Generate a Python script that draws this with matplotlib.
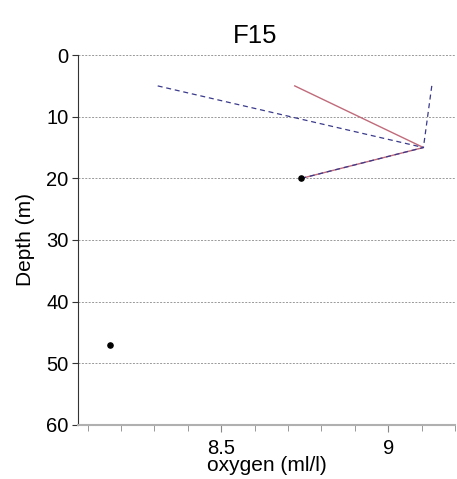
import numpy as np
import matplotlib.pyplot as plt
from matplotlib.ticker import MultipleLocator

plt.rcParams['font.family'] = ['Liberation Sans', 'DejaVu Sans']

# Data
red_oxygen = [8.72, 9.105, 8.74]
red_depth = [5, 15, 20]
blue_oxygen = [8.31, 9.105, 8.74]
blue_depth = [5, 15, 20]
blue2_oxygen = [9.13, 9.105]
blue2_depth = [5, 15]
dot_oxygen = [8.74, 8.168]
dot_depth = [20, 47]
yticks = [0, 10, 20, 30, 40, 50, 60]

fig = plt.figure(figsize=(4.57, 4.79), dpi=100)
ax = fig.add_axes([0.171, 0.113, 0.825, 0.772])

ax.plot(red_oxygen, red_depth, color='#c06a7a', lw=1.0)
ax.plot(blue_oxygen, blue_depth, color='#3a3a8c', lw=0.9, ls=(0, (4, 3)))
ax.plot(blue2_oxygen, blue2_depth, color='#3a3a8c', lw=0.9, ls=(0, (4, 3)))
ax.scatter(dot_oxygen, dot_depth, color='black', s=14, zorder=5)

ax.set_xlim(8.072, 9.2)
ax.set_ylim(60, 0)
ax.set_yticks(yticks)
ax.set_xticks([8.5, 9.0])
ax.set_xticklabels(['8.5', '9'])
ax.xaxis.set_minor_locator(MultipleLocator(0.1))

for y in yticks[:-1]:
    ax.axhline(y, color='#999999', lw=0.7, ls=(0, (2, 1.5)), zorder=0)

ax.spines['top'].set_visible(False)
ax.spines['right'].set_visible(False)
ax.spines['left'].set_color('#333333')
ax.spines['bottom'].set_color('#b0b0b0')
ax.spines['bottom'].set_linewidth(1.5)

ax.tick_params(axis='y', labelsize=14.5, length=4, color='#333333', pad=3)
ax.tick_params(axis='x', which='major', labelsize=14.5, length=5, color='#888888', pad=5)
ax.tick_params(axis='x', which='minor', length=4, color='#888888')

ax.set_xlabel('oxygen (ml/l)', fontsize=15, labelpad=-1)
ax.set_ylabel('Depth (m)', fontsize=15, labelpad=8)
fig.text(0.558, 0.925, 'F15', fontsize=18.5, ha='center', va='center')

fig.savefig('out.png', dpi=100)
